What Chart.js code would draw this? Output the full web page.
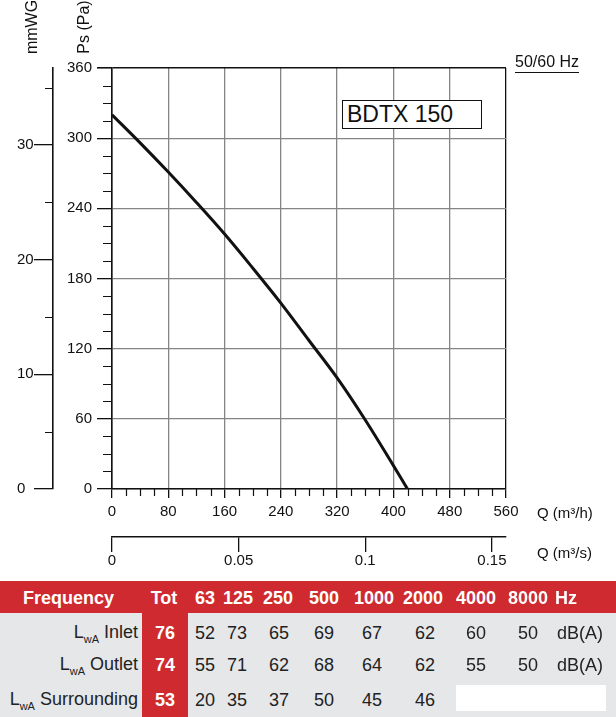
<!DOCTYPE html>
<html>
<head>
<meta charset="utf-8">
<script src="https://cdn.jsdelivr.net/npm/chart.js@4.4.1/dist/chart.umd.min.js"></script>
<style>
  body { margin: 0; background: #fff; font-family: "Liberation Sans", Arial, Helvetica, sans-serif; }
  #wrap { position: relative; width: 616px; height: 717px; overflow: hidden; }
  #chartBox { position: absolute; left: 0; top: 0; width: 616px; height: 580px; }
  .txt { position: absolute; white-space: nowrap; color: #111; }
  .c { transform: translate(-50%, -50%); }
  .r { transform: translate(-100%, -50%); }
  .l { transform: translate(0, -50%); }
  .rot { transform: translate(-50%, -50%) rotate(-90deg); font-size: 16px; }
  .block { position: absolute; }
  .hd { font-weight: bold; font-size: 18px; color: #fff; }
  .val { font-size: 18px; color: #222; }
  .tot { font-weight: bold; font-size: 18px; color: #fff; }
  sub { font-size: 11px; vertical-align: -5px; }
</style>
</head>
<body>
<div id="wrap">
  <div id="chartBox"><canvas id="fanChart" width="616" height="580"></canvas></div>

  <div class="txt rot" style="left:32px; top:27px;">mmWG</div>
  <div class="txt rot" style="left:84px; top:27px;">Ps (Pa)</div>
  <div class="txt l" style="left:537px; top:512px; font-size:15px;">Q (m³/h)</div>
  <div class="txt l" style="left:537px; top:552px; font-size:15px;">Q (m³/s)</div>
  <div class="txt l" style="left:515px; top:62px; font-size:16px;">50/60 Hz</div>
  <div class="block" style="left:515px; top:72px; width:64px; height:1px; background:#111;"></div>
  <div class="block" style="left:342px; top:100px; width:140px; height:29px; box-sizing:border-box; border:1px solid #111; background:#fff; font-size:23px; line-height:27px; padding-left:4px; color:#111;">BDTX 150</div>

  <div id="table"></div>
</div>

<script>
// performance curve
const flowM3h = [0, 40, 80, 120, 160, 200, 240, 280, 320, 360, 400, 420];
const pressurePa = [320, 296, 271, 245, 218, 189, 159, 127, 95, 59, 20, 0];

// axis ranges
const flowMax = 560, flowStep = 80, flowMinor = 20;
const paMax = 360, paStep = 60, paMinor = 15;
const mmwgStep = 10;
const paPerMmwg = 9.80665;

// sound table
const bands = ['63', '125', '250', '500', '1000', '2000', '4000', '8000'];
const rowNames = ['Inlet', 'Outlet', 'Surrounding'];
const totals = [76, 74, 53];
const inlet = [52, 73, 65, 69, 67, 62, 60, 50];
const outlet = [55, 71, 62, 68, 64, 62, 55, 50];
const surrounding = [20, 35, 37, 50, 45, 46];

// minor tick marks drawn against the library's own scales
const minorTicks = {
    id: 'minorTicks',
    afterDraw(chart) {
        const ctx = chart.ctx;
        const area = chart.chartArea;
        const x = chart.scales.x;
        const y = chart.scales.y;
        const w = chart.scales.y2;
        ctx.save();
        ctx.strokeStyle = '#111';
        ctx.lineWidth = 1.2;
        ctx.beginPath();
        for (let v = 0; v <= flowMax; v += flowMinor) {
            if (v % flowStep === 0) continue;
            const px = Math.round(x.getPixelForValue(v)) + 0.5;
            ctx.moveTo(px, area.bottom);
            ctx.lineTo(px, area.bottom + 7);
        }
        for (let v = 0; v <= paMax; v += paMinor) {
            if (v % paStep === 0) continue;
            const py = Math.round(y.getPixelForValue(v)) + 0.5;
            ctx.moveTo(area.left, py);
            ctx.lineTo(area.left - 9, py);
        }
        for (let v = mmwgStep / 2; v <= w.max; v += mmwgStep) {
            const py = Math.round(w.getPixelForValue(v)) + 0.5;
            ctx.moveTo(w.right, py);
            ctx.lineTo(w.right - 8, py);
        }
        ctx.stroke();
        ctx.restore();
    }
};

Chart.defaults.font.family = '"Liberation Sans", Arial, Helvetica, sans-serif';
Chart.defaults.font.size = 15;
Chart.defaults.color = '#111';

const ctx = document.getElementById('fanChart').getContext('2d');
new Chart(ctx, {
    type: 'line',
    data: {
        datasets: [{
            label: 'BDTX 150',
            data: flowM3h.map((q, i) => ({ x: q, y: pressurePa[i] })),
            borderColor: '#111',
            borderWidth: 3,
            pointRadius: 0,
            fill: false,
            tension: 0.35,
            xAxisID: 'x',
            yAxisID: 'y'
        }]
    },
    options: {
        responsive: false,
        animation: false,
        layout: { padding: { left: 17, right: 110, top: 68, bottom: 3 } },
        plugins: {
            legend: { display: false },
            tooltip: { enabled: false }
        },
        scales: {
            x: {
                type: 'linear',
                position: 'bottom',
                min: 0,
                max: flowMax,
                weight: 0,
                afterFit(scale) { scale.height = 48; },
                ticks: { stepSize: flowStep, padding: 5, maxRotation: 0 },
                grid: {
                    color: c => (c.tick && c.tick.value === flowMax) ? '#111' : '#858585',
                    lineWidth: 1.3,
                    tickColor: '#111',
                    tickLength: 9
                },
                border: { color: '#111', width: 1.6 }
            },
            x2: {
                type: 'linear',
                position: 'bottom',
                min: 0,
                max: flowMax / 3600,
                weight: 1,
                afterFit(scale) { scale.height = 40; },
                ticks: {
                    stepSize: 0.05,
                    includeBounds: false,
                    padding: 0,
                    maxRotation: 0,
                    callback: v => v === 0 ? '0' : String(Math.round(v * 100) / 100)
                },
                grid: { drawOnChartArea: false, tickColor: '#111', tickLength: 15, lineWidth: 1.3 },
                border: { color: '#111', width: 1.6 }
            },
            y: {
                type: 'linear',
                position: 'left',
                min: 0,
                max: paMax,
                weight: 0,
                afterFit(scale) { scale.width = 59; },
                ticks: { stepSize: paStep, padding: 5 },
                grid: {
                    color: c => (c.tick && c.tick.value === paMax) ? '#111' : '#858585',
                    lineWidth: c => (c.tick && c.tick.value === paMax) ? 1.6 : 1.3,
                    tickColor: '#111',
                    tickLength: 15
                },
                border: { color: '#111', width: 1.6 }
            },
            y2: {
                type: 'linear',
                position: 'left',
                min: 0,
                max: paMax / paPerMmwg,
                weight: 1,
                afterFit(scale) { scale.width = 36; },
                ticks: { stepSize: mmwgStep, includeBounds: false, crossAlign: 'far', padding: 0 },
                grid: { drawOnChartArea: false, tickColor: '#111', tickLength: 19, lineWidth: 1.3 },
                border: { color: '#111', width: 1.6 }
            }
        }
    },
    plugins: [minorTicks]
});

// sound power table below the chart
const table = document.getElementById('table');
const headY = 598;
const rowY = [633, 665, 700];
const headX = [205, 238, 278, 324, 374, 423, 476, 528];
const valX = [205, 237, 279, 324, 372, 425, 476, 528];

function place(html, cls, x, y) {
    const d = document.createElement('div');
    d.className = 'txt ' + cls;
    d.style.left = x + 'px';
    d.style.top = y + 'px';
    d.innerHTML = html;
    table.appendChild(d);
}
function box(x, y, w, h, color) {
    const d = document.createElement('div');
    d.className = 'block';
    d.style.cssText = `left:${x}px;top:${y}px;width:${w}px;height:${h}px;background:${color};`;
    table.appendChild(d);
}

box(0, 581, 616, 32, '#cf2a30');
box(0, 613, 616, 104, '#e6e7e9');
box(142, 613, 46, 104, '#cf2a30');
box(456, 685, 150, 26, '#ffffff');

place('Frequency', 'hd l', 23, headY);
place('Tot', 'hd c', 164, headY);
bands.forEach((b, i) => place(b, 'hd c', headX[i], headY));
place('Hz', 'hd c', 566, headY);

const rows = [inlet, outlet, surrounding];
rows.forEach((vals, r) => {
    place('L<sub>wA</sub> ' + rowNames[r], 'val r', 138, rowY[r]);
    place(String(totals[r]), 'tot c', 165, rowY[r]);
    vals.forEach((v, i) => place(String(v), 'val c', valX[i], rowY[r]));
    if (vals.length === bands.length) place('dB(A)', 'val c', 580, rowY[r]);
});
</script>
</body>
</html>
